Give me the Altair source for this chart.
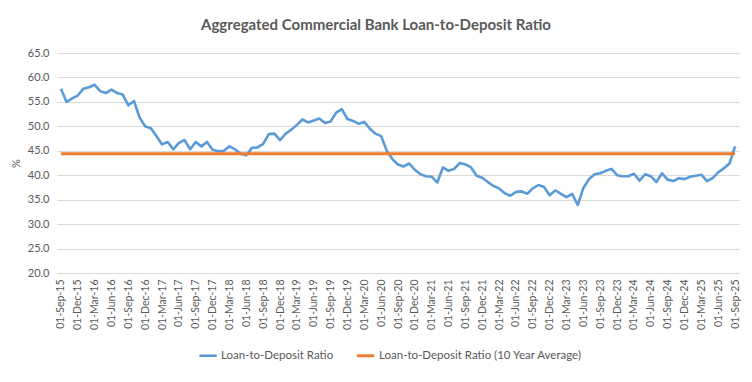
import altair as alt
import pandas as pd

# Monthly Loan-to-Deposit Ratio (%), Sep-2015 .. Sep-2025
ldr_2015 = [57.7, 55.0, 55.7, 56.3]
ldr_2016 = [57.7, 58.0, 58.5, 57.2, 56.8, 57.5, 56.8, 56.5, 54.3, 55.2, 51.8, 50.0]
ldr_2017 = [49.6, 48.0, 46.3, 46.8, 45.3, 46.6, 47.2, 45.3, 46.8, 45.9, 46.8, 45.2]
ldr_2018 = [44.9, 45.0, 45.9, 45.3, 44.4, 44.1, 45.6, 45.7, 46.4, 48.4, 48.5, 47.2]
ldr_2019 = [48.5, 49.3, 50.3, 51.4, 50.8, 51.2, 51.6, 50.7, 51.0, 52.8, 53.5, 51.5]
ldr_2020 = [51.1, 50.5, 50.9, 49.5, 48.5, 48.0, 45.0, 43.3, 42.2, 41.8, 42.4, 41.1]
ldr_2021 = [40.2, 39.8, 39.7, 38.5, 41.6, 40.9, 41.3, 42.5, 42.2, 41.6, 39.9, 39.5]
ldr_2022 = [38.6, 37.8, 37.3, 36.3, 35.8, 36.6, 36.7, 36.2, 37.3, 38.0, 37.6, 35.9]
ldr_2023 = [36.9, 36.2, 35.5, 36.2, 33.9, 37.4, 39.2, 40.2, 40.4, 40.9, 41.3, 40.0]
ldr_2024 = [39.8, 39.8, 40.3, 38.9, 40.2, 39.8, 38.6, 40.4, 39.1, 38.8, 39.4, 39.2]
ldr_2025 = [39.7, 39.9, 40.1, 38.8, 39.4, 40.6, 41.4, 42.4, 45.9]
ten_year_average = 44.4

series_names = ["Loan-to-Deposit Ratio", "Loan-to-Deposit Ratio (10 Year Average)"]
series_colors = ["#5B9BD5", "#ED7D31"]

ldr = (ldr_2015 + ldr_2016 + ldr_2017 + ldr_2018 + ldr_2019 + ldr_2020
       + ldr_2021 + ldr_2022 + ldr_2023 + ldr_2024 + ldr_2025)
months = pd.date_range("2015-09-01", periods=len(ldr), freq="MS")
labels = [m.strftime("%d-%b-%y") for m in months]
tick_labels = labels[::3]

df = pd.DataFrame({
    "month": labels * 2,
    "value": ldr + [ten_year_average] * len(ldr),
    "series": [series_names[0]] * len(ldr) + [series_names[1]] * len(ldr),
    "order": [0] * len(ldr) + [1] * len(ldr),
})

FONT = "Lato"
GRAY = "#595959"

chart = alt.Chart(df).mark_line(strokeJoin="round").encode(
    x=alt.X("month:O", sort=labels,
            scale=alt.Scale(type="point", padding=0.7),
            axis=alt.Axis(title=None, values=tick_labels, labelAngle=-90,
                          labelAlign="right", labelBaseline="middle",
                          labelFontSize=10.5, labelColor=GRAY, labelFont=FONT,
                          labelPadding=6, ticks=False, domainColor="#D9D9D9",
                          grid=False)),
    y=alt.Y("value:Q", scale=alt.Scale(domain=[20, 65], nice=False, zero=False),
            axis=alt.Axis(title="%", values=list(range(20, 70, 5)), format=".1f",
                          labelFontSize=11, labelColor=GRAY, labelFont=FONT,
                          labelPadding=8, ticks=False, domain=False,
                          gridColor="#D9D9D9", titleFontSize=11, titleColor=GRAY,
                          titleFont=FONT, titleFontWeight="normal", titlePadding=6)),
    color=alt.Color("series:N", sort=series_names,
                    scale=alt.Scale(domain=series_names, range=series_colors),
                    legend=alt.Legend(title=None, orient="none", direction="horizontal",
                                      legendX=141, legendY=292, symbolType="stroke",
                                      symbolStrokeWidth=3, symbolSize=300,
                                      labelFontSize=11.5, labelColor=GRAY, labelFont=FONT,
                                      labelLimit=0, columnPadding=16, labelOffset=3)),
    strokeWidth=alt.StrokeWidth("series:N", sort=series_names,
                                scale=alt.Scale(domain=series_names, range=[2.6, 3]),
                                legend=None),
    order=alt.Order("order:Q"),
).properties(
    width=682,
    height=220,
    autosize=alt.AutoSizeParams(type="none"),
    padding={"left": 49, "top": 45, "right": 5, "bottom": 100},
    title=alt.TitleParams("Aggregated Commercial Bank Loan-to-Deposit Ratio",
                          fontSize=15, font=FONT, fontWeight="bold", color=GRAY,
                          anchor="middle", dx=-22, offset=14),
).configure_view(stroke=None)

chart.save("out.html", embed_options={"renderer": "svg", "actions": False})
